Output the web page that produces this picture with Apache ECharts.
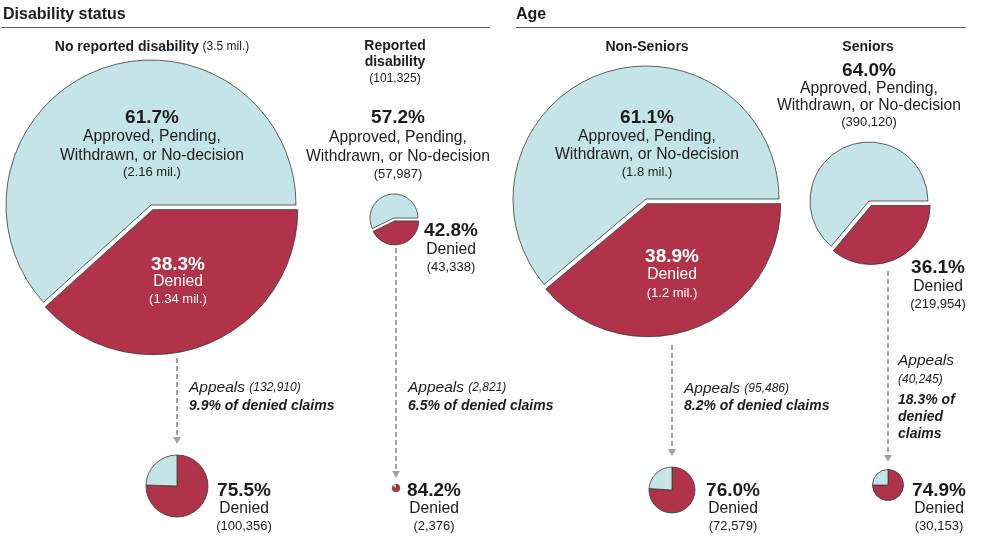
<!DOCTYPE html>
<html><head><meta charset="utf-8">
<script src="https://cdn.jsdelivr.net/npm/echarts@6/dist/echarts.min.js"></script>
<style>html,body{margin:0;padding:0;background:#fff}#c{width:982px;height:538px}</style>
</head><body><div id="c"></div>
<script>
// ---- data ----
const sections = ['Disability status', 'Age'];
const groups = ['No reported disability', 'Reported disability', 'Non-Seniors', 'Seniors'];
const groupTotals = ['3.5 mil.', '101,325', '', ''];
const approvedPct = [61.7, 57.2, 61.1, 64.0];
const deniedPct = [38.3, 42.8, 38.9, 36.1];
const approvedCount = ['2.16 mil.', '57,987', '1.8 mil.', '390,120'];
const deniedCount = ['1.34 mil.', '43,338', '1.2 mil.', '219,954'];
const appealCount = ['132,910', '2,821', '95,486', '40,245'];
const appealShare = [9.9, 6.5, 8.2, 18.3];
const appealDeniedPct = [75.5, 84.2, 76.0, 74.9];
const appealOtherPct = [24.5, 15.8, 24.0, 25.1];
const appealDeniedCount = ['100,356', '2,376', '72,579', '30,153'];
const approvedName = 'Approved, Pending,\nWithdrawn, or No-decision';

// ---- layout / style ----
const FONT = "'Liberation Sans', Arial, sans-serif";
const RED = '#b1334a', BLUE = '#c5e4e8', INK = '#1c1c1c', GREY = '#a3a3a3';
const MID = 15.7;
const bigPies = [{c: [151, 205], r: 145}, {c: [394, 218], r: 24}, {c: [646, 199], r: 133}, {c: [869, 201], r: 59}];
const smallPies = [{c: [177, 486], r: 31}, {c: [396, 488], r: 4}, {c: [672, 490], r: 23}, {c: [888, 485], r: 15.5}];
const approvedLbl = [{x: 152, y: [118, 137, 156, 172]}, {x: 398, y: [118, 138, 157, 174]}, {x: 647, y: [118, 137, 155, 172]}, {x: 869, y: [71, 89, 106, 122]}];
const deniedLbl = [{x: 178, y: [265, 282, 299], c: '#fff'}, {x: 451, y: [231, 250, 267], c: INK}, {x: 672, y: [257, 275, 293], c: '#fff'}, {x: 938, y: [268, 287, 304], c: INK}];
const arrowY = [[358, 444], [248, 478], [345, 456], [271, 462]];
const appealLbl = [{x: 189, y: [388, 406]}, {x: 408, y: [388, 406]}, {x: 684, y: [389, 406]}, {x: 898, y: [361, 380, 400, 417, 434]}];
const bottomLbl = [{x: 244, y: [491, 509, 526]}, {x: 434, y: [491, 509, 526]}, {x: 733, y: [491, 509, 526]}, {x: 939, y: [491, 509, 526]}];

const chart = echarts.init(document.getElementById('c'), null, {renderer: 'canvas'});

function txt(x, y, text, size, opts) {
  opts = opts || {};
  return {
    type: 'text', x: x, y: y, silent: true, z: 100,
    style: {
      text: text, fill: opts.color || INK,
      font: (opts.italic ? 'italic ' : '') + (opts.bold ? 'bold ' : '') + size + 'px ' + FONT,
      align: opts.align || 'center', verticalAlign: 'middle', rich: opts.rich
    }
  };
}

const series = [];
bigPies.forEach((p, i) => {
  series.push({
    type: 'pie', center: p.c, radius: p.r, startAngle: 0, clockwise: true, z: 2,
    selectedMode: 'multiple', selectedOffset: i === 1 ? 3 : 5,
    silent: true, animation: false, label: {show: false}, labelLine: {show: false},
    emphasis: {disabled: true},
    itemStyle: {borderColor: '#3a3a3a', borderWidth: 0.8},
    data: [
      {name: 'Denied', value: deniedPct[i], selected: true, itemStyle: {color: RED}},
      {name: approvedName, value: approvedPct[i], itemStyle: {color: BLUE}}
    ]
  });
});
smallPies.forEach((p, i) => {
  series.push({
    type: 'pie', center: p.c, radius: p.r, startAngle: 90, clockwise: true, z: 2,
    silent: true, animation: false, label: {show: false}, labelLine: {show: false},
    emphasis: {disabled: true},
    itemStyle: {borderColor: '#3a3a3a', borderWidth: p.r > 6 ? 0.8 : 0.3},
    data: [
      {name: 'Denied', value: appealDeniedPct[i], itemStyle: {color: RED}},
      {name: 'Other', value: appealOtherPct[i], itemStyle: {color: BLUE}}
    ]
  });
});

const g = [];
// section headers
g.push(txt(3, 15, sections[0], 16, {bold: true, align: 'left'}));
g.push(txt(516, 15, sections[1], 16, {bold: true, align: 'left'}));
g.push({type: 'line', silent: true, z: 100, shape: {x1: 1, y1: 27.5, x2: 490, y2: 27.5}, style: {stroke: '#666', lineWidth: 1}});
g.push({type: 'line', silent: true, z: 100, shape: {x1: 516, y1: 27.5, x2: 966, y2: 27.5}, style: {stroke: '#666', lineWidth: 1}});

// group titles
g.push(txt(152, 47, '{b|' + groups[0] + '} {s|(' + groupTotals[0] + ')}', 14, {rich: {
  b: {font: 'bold 14px ' + FONT, fill: INK}, s: {font: '12px ' + FONT, fill: INK}}}));
const rd = groups[1].split(' ');
g.push(txt(395, 46, rd[0], 14, {bold: true}));
g.push(txt(395, 62, rd[1], 14, {bold: true}));
g.push(txt(395, 79, '(' + groupTotals[1] + ')', 12));
g.push(txt(647, 47, groups[2], 14, {bold: true}));
g.push(txt(868, 47, groups[3], 14, {bold: true}));

// pie labels
const apLines = approvedName.split('\n');
for (let i = 0; i < 4; i++) {
  const a = approvedLbl[i];
  g.push(txt(a.x, a.y[0], approvedPct[i].toFixed(1) + '%', 19, {bold: true}));
  g.push(txt(a.x, a.y[1], apLines[0], MID));
  g.push(txt(a.x, a.y[2], apLines[1], MID));
  g.push(txt(a.x, a.y[3], '(' + approvedCount[i] + ')', 13));
  const d = deniedLbl[i];
  g.push(txt(d.x, d.y[0], deniedPct[i].toFixed(1) + '%', 19, {bold: true, color: d.c}));
  g.push(txt(d.x, d.y[1], 'Denied', MID, {color: d.c}));
  g.push(txt(d.x, d.y[2], '(' + deniedCount[i] + ')', 13, {color: d.c}));

  // arrows
  const ax = smallPies[i].c[0];
  const ay = arrowY[i];
  g.push({type: 'line', silent: true, z: 100, shape: {x1: ax, y1: ay[0], x2: ax, y2: ay[1] - 5},
    style: {stroke: GREY, lineWidth: 2, lineDash: [5, 3]}});
  g.push({type: 'polygon', silent: true, z: 100, shape: {points: [[ax - 4, ay[1] - 7], [ax + 4, ay[1] - 7], [ax, ay[1]]]},
    style: {fill: GREY}});

  // appeals labels
  const al = appealLbl[i];
  const rich = {a: {font: 'italic 15.5px ' + FONT, fill: INK}, s: {font: 'italic 12px ' + FONT, fill: INK}};
  if (i < 3) {
    g.push(txt(al.x, al.y[0], '{a|Appeals} {s|(' + appealCount[i] + ')}', 15.5, {align: 'left', rich: rich}));
    g.push(txt(al.x, al.y[1], appealShare[i].toFixed(1) + '% of denied claims', 14, {align: 'left', bold: true, italic: true}));
  } else {
    g.push(txt(al.x, al.y[0], 'Appeals', 15.5, {align: 'left', italic: true}));
    g.push(txt(al.x, al.y[1], '(' + appealCount[i] + ')', 12, {align: 'left', italic: true}));
    g.push(txt(al.x, al.y[2], appealShare[i].toFixed(1) + '% of', 14, {align: 'left', bold: true, italic: true}));
    g.push(txt(al.x, al.y[3], 'denied', 14, {align: 'left', bold: true, italic: true}));
    g.push(txt(al.x, al.y[4], 'claims', 14, {align: 'left', bold: true, italic: true}));
  }

  // bottom labels
  const b = bottomLbl[i];
  g.push(txt(b.x, b.y[0], appealDeniedPct[i].toFixed(1) + '%', 19, {bold: true}));
  g.push(txt(b.x, b.y[1], 'Denied', MID));
  g.push(txt(b.x, b.y[2], '(' + appealDeniedCount[i] + ')', 13));
}

chart.setOption({animation: false, series: series, graphic: {elements: g}});
</script></body></html>
